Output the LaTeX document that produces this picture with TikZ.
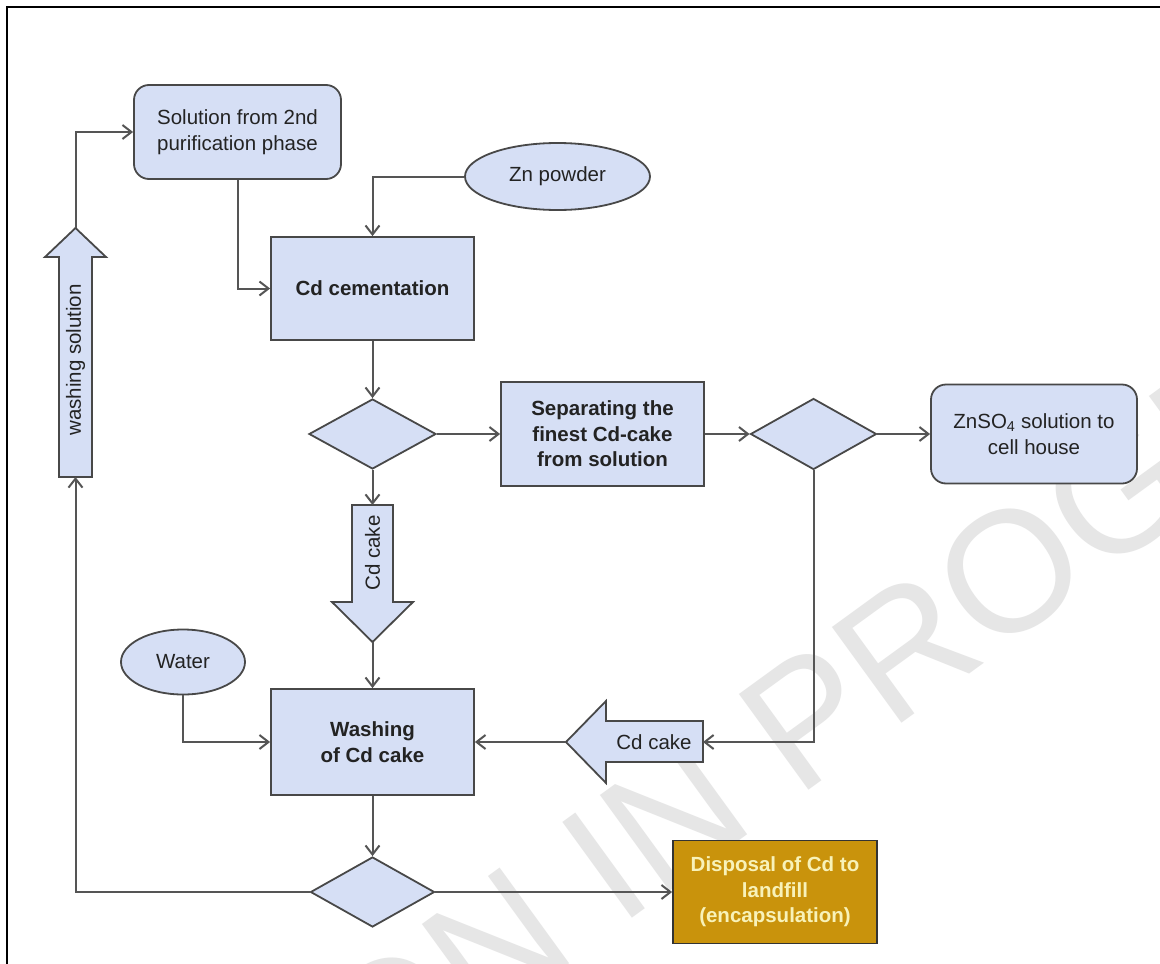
\documentclass[tikz,border=0pt]{standalone}
\usepackage{fontspec}
\setmainfont{Liberation Sans}
\usetikzlibrary{arrows.meta,shapes.geometric}
\definecolor{boxfill}{RGB}{214,223,245}
\definecolor{boxdraw}{RGB}{72,72,72}
\definecolor{linec}{RGB}{85,85,85}
\definecolor{txt}{RGB}{35,35,35}
\definecolor{gold}{RGB}{201,147,12}
\definecolor{goldtxt}{RGB}{248,242,185}
\definecolor{wmgray}{RGB}{230,230,230}
\begin{document}
\begin{tikzpicture}[x=1pt,y=-1pt,
  every node/.style={font=\fontsize{20.5}{25.5}\selectfont, text=txt, align=center, inner sep=0pt},
  proc/.style={draw=boxdraw, fill=boxfill, line width=1.8pt, rectangle},
  roundbox/.style={proc, rounded corners=15pt},
  oval/.style={draw=boxdraw, fill=boxfill, line width=1.8pt, ellipse},
  decision/.style={draw=boxdraw, fill=boxfill, line width=1.8pt, diamond},
  blockarrow/.style={draw=boxdraw, fill=boxfill, line width=1.8pt, line join=miter},
  conn/.style={draw=linec, line width=2pt, -{Straight Barb[length=9pt,width=14pt]}},
  boldtext/.style={font=\fontsize{20.5}{25.5}\selectfont\bfseries}
]
\useasboundingbox (0,0) rectangle (1160,964);
\fill[white] (0,0) rectangle (1160,964);

% watermark (behind the diagram)
\begin{scope}
\clip (0,0) rectangle (1160,964);
\node[rotate=36, font=\fontsize{172}{172}\selectfont, text=wmgray] (wm) at (590,876) {PUBLICATION IN PROGRESS};
\end{scope}

% frame
\draw[line width=2.5pt] (7,964) -- (7,7) -- (1160,7);

% nodes
\node[roundbox, minimum width=207pt, minimum height=94pt] (sol) at (237.5,132) {Solution from 2nd\\purification phase};
\node[oval, minimum width=185pt, minimum height=67pt] (zn) at (557.5,176.5) {Zn powder};
\node[proc, minimum width=203pt, minimum height=103pt, boldtext] (cem) at (372.5,288.5) {Cd cementation};
\node[decision, minimum width=127pt, minimum height=70pt] (d1) at (372.5,434) {};
\node[proc, minimum width=203pt, minimum height=104pt, boldtext] (sep) at (602.5,434) {Separating the\\finest Cd-cake\\from solution};
\node[decision, minimum width=126pt, minimum height=71pt] (d2) at (813.5,434) {};
\node[roundbox, minimum width=206pt, minimum height=99pt] (znso) at (1034,434) {ZnSO\textsubscript{4} solution to\\cell house};
\node[oval, minimum width=124pt, minimum height=65pt] (water) at (183,662) {Water};
\node[proc, minimum width=203pt, minimum height=106pt, boldtext] (wash) at (372.5,742) {Washing\\of Cd cake};
\node[decision, minimum width=124pt, minimum height=70pt] (d3) at (372.5,892) {};
\node[proc, fill=gold, draw=black!80, minimum width=204pt, minimum height=103pt, boldtext, text=goldtxt] (disp) at (775,892) {Disposal of Cd to\\landfill\\(encapsulation)};

% block arrow: washing solution (up)
\coordinate (wsTail) at (75.5,477);
\coordinate (wsTip) at (75.5,228);
\draw[blockarrow] (59,477) -- (59,257) -- (45,257) -- (wsTip) -- (106,257) -- (92,257) -- (92,477) -- cycle;
\node[rotate=90] (wsText) at (75.5,360) {washing solution};

% block arrow: Cd cake (down)
\coordinate (cdDtail) at (372.5,505);
\coordinate (cdDtip) at (372.5,642);
\draw[blockarrow] (352,505) -- (393,505) -- (393,602) -- (413,602) -- (cdDtip) -- (332,602) -- (352,602) -- cycle;
\node[rotate=90] (cdDtext) at (372.5,553) {Cd cake};

% block arrow: Cd cake (left)
\coordinate (cdLtail) at (703,742);
\coordinate (cdLtip) at (566,742);
\draw[blockarrow] (703,721) -- (703,762) -- (606,762) -- (606,783) -- (cdLtip) -- (606,701) -- (606,721) -- cycle;
\node (cdLtext) at (654,742) {Cd cake};

% connectors
\draw[conn] (zn.west) -| (cem.north);
\draw[conn] (sol.south) |- (cem.west);
\draw[conn] (cem.south) -- (d1.north);
\draw[conn] (d1.east) -- (sep.west);
\draw[conn] (sep.east) -- (d2.west);
\draw[conn] (d2.east) -- (znso.west);
\draw[conn] (d2.south) |- (cdLtail);
\draw[conn] (cdLtip) -- (wash.east);
\draw[conn] (d1.south) -- (cdDtail);
\draw[conn] (cdDtip) -- (wash.north);
\draw[conn] (water.south) |- (wash.west);
\draw[conn] (wash.south) -- (d3.north);
\draw[conn] (d3.west) -| (wsTail);
\draw[conn] (wsTip) |- (sol.west);
\draw[conn] (d3.east) -- (disp.west);
\end{tikzpicture}
\end{document}
